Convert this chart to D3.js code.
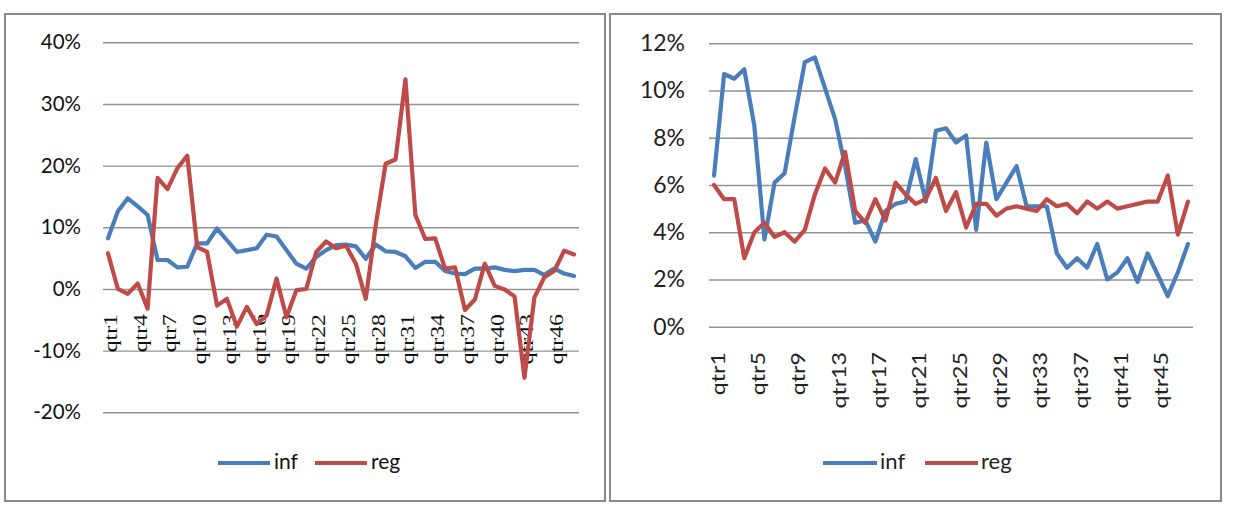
<!DOCTYPE html>
<html>
<head>
<meta charset="utf-8">
<script src="https://cdn.jsdelivr.net/npm/d3@7"></script>
<style>
  html, body { margin: 0; padding: 0; background: #fff; }
  svg { display: block; }
</style>
</head>
<body>
<svg id="chart" width="1242" height="509"></svg>
<script>
// ---------- data ----------
const categories = d3.range(1, 49).map(i => "qtr" + i);
const seriesNames = ["inf", "reg"];

const leftInf = [8.2,12.6,14.7,13.4,12.0,4.7,4.7,3.5,3.6,7.4,7.4,9.8,7.9,6.0,6.3,6.6,8.8,8.5,6.3,4.1,3.3,5.2,6.3,7.1,7.2,6.9,4.9,7.2,6.1,6.0,5.3,3.4,4.4,4.4,2.9,2.5,2.4,3.3,3.3,3.5,3.1,2.9,3.1,3.1,2.3,3.3,2.5,2.1];
const leftReg = [5.8,0,-0.8,0.9,-3.2,18.0,16.2,19.6,21.6,6.8,6.0,-2.7,-1.6,-6.1,-2.9,-5.7,-4.3,1.7,-4.6,-0.2,0,6.0,7.7,6.6,7.0,4.1,-1.6,10.3,20.3,21.0,34.0,12.0,8.1,8.2,3.3,3.5,-3.4,-1.7,4.1,0.5,-0.1,-1.2,-14.4,-1.4,1.9,2.9,6.2,5.6];

const rightInf = [6.4,10.7,10.5,10.9,8.5,3.7,6.1,6.5,8.9,11.2,11.4,10.1,8.8,6.8,4.4,4.5,3.6,4.9,5.2,5.3,7.1,5.3,8.3,8.4,7.8,8.1,4.1,7.8,5.4,6.1,6.8,5.1,5.1,5.1,3.1,2.5,2.9,2.5,3.5,2.0,2.3,2.9,1.9,3.1,2.2,1.3,2.3,3.5];
const rightReg = [6.0,5.4,5.4,2.9,4.0,4.4,3.8,4.0,3.6,4.1,5.6,6.7,6.1,7.4,4.9,4.4,5.4,4.5,6.1,5.6,5.2,5.4,6.3,4.9,5.7,4.2,5.2,5.2,4.7,5.0,5.1,5.0,4.9,5.4,5.1,5.2,4.8,5.3,5.0,5.3,5.0,5.1,5.2,5.3,5.3,6.4,3.9,5.3];

const leftTicks = [-20,-10,0,10,20,30,40];
const rightTicks = [0,2,4,6,8,10,12];
const leftLabelCats = categories.filter((c, i) => i % 3 === 0);
const rightLabelCats = categories.filter((c, i) => i % 4 === 0);

// ---------- styles ----------
const colors = { inf: "#4a7ebb", reg: "#be4b48" };
const svg = d3.select("#chart");

function panel(cfg) {
  svg.append("rect")
    .attr("x", cfg.box[0]).attr("y", cfg.box[1])
    .attr("width", cfg.box[2]).attr("height", cfg.box[3])
    .attr("fill", "#fff").attr("stroke", "#8a8a8a").attr("stroke-width", 2);

  const x = d3.scaleBand().domain(categories).range([cfg.x0, cfg.x1]);
  const y = d3.scaleLinear().domain(cfg.domain).range([cfg.yBottom, cfg.yTop]);
  const cx = c => x(c) + x.bandwidth() / 2;

  const yAxis = svg.append("g")
    .attr("transform", `translate(${cfg.x0},0)`)
    .call(d3.axisLeft(y).tickValues(cfg.ticks).tickSize(-(cfg.x1 - cfg.x0))
      .tickPadding(cfg.yPad).tickFormat(d => d + "%"));
  yAxis.select(".domain").remove();
  yAxis.selectAll(".tick line").attr("stroke", "#8f948f").attr("stroke-width", 1.4);
  yAxis.selectAll(".tick text")
    .attr("font-family", "Lato, 'Open Sans', sans-serif")
    .attr("font-size", cfg.yFont).attr("fill", cfg.textColor);

  const xAxis = svg.append("g")
    .attr("transform", `translate(0,${cfg.labelTop})`)
    .call(d3.axisBottom(x).tickValues(cfg.labelCats).tickSize(0));
  xAxis.select(".domain").remove();
  xAxis.selectAll(".tick text")
    .attr("x", 0).attr("y", 0).attr("dy", "0.35em")
    .attr("text-anchor", "end")
    .attr("font-family", cfg.xFamily)
    .attr("font-size", cfg.xFont)
    .attr("fill", cfg.textColor)
    .attr("transform", `translate(${cfg.xShift},0) rotate(-90) scale(${cfg.xStretch},1)`);

  const series = { inf: cfg.inf, reg: cfg.reg };
  seriesNames.forEach(name => {
    const line = d3.line()
      .x((d, i) => cx(categories[i]))
      .y(d => y(d));
    svg.append("path")
      .datum(series[name])
      .attr("d", line)
      .attr("fill", "none")
      .attr("stroke", colors[name])
      .attr("stroke-width", 4.2)
      .attr("stroke-linejoin", "round")
      .attr("stroke-linecap", "round");
  });

  const lg = svg.append("g");
  cfg.legend.forEach((l, i) => {
    lg.append("line")
      .attr("x1", l.lx1).attr("x2", l.lx2).attr("y1", cfg.legendY).attr("y2", cfg.legendY)
      .attr("stroke", colors[seriesNames[i]]).attr("stroke-width", 4.2);
    lg.append("text")
      .attr("x", l.tx).attr("y", cfg.legendBase)
      .attr("font-family", "Lato, 'Open Sans', sans-serif")
      .attr("font-size", cfg.legendFont)
      .attr("fill", cfg.textColor)
      .text(seriesNames[i]);
  });
}

panel({
  box: [5, 14, 600, 487],
  x0: 103, x1: 579,
  domain: [-20, 40], yBottom: 412.3, yTop: 42.3,
  ticks: leftTicks, yPad: 22, yFont: 20.5,
  labelCats: leftLabelCats, labelTop: 314,
  xFamily: "'Liberation Serif', 'Times New Roman', serif", xFont: 18, xStretch: 1.32, xShift: 2.5,
  textColor: "#111",
  inf: leftInf, reg: leftReg,
  legendY: 463, legendBase: 469, legendFont: 21,
  legend: [{lx1: 218, lx2: 270, tx: 274}, {lx1: 315, lx2: 367, tx: 371}]
});

panel({
  box: [610, 14, 611, 487],
  x0: 709, x1: 1193,
  domain: [0, 12], yBottom: 326.7, yTop: 43.3,
  ticks: rightTicks, yPad: 24, yFont: 23,
  labelCats: rightLabelCats, labelTop: 352,
  xFamily: "Lato, 'Open Sans', sans-serif", xFont: 19, xStretch: 1.22, xShift: 4,
  textColor: "#222",
  inf: rightInf, reg: rightReg,
  legendY: 463, legendBase: 469, legendFont: 22,
  legend: [{lx1: 823, lx2: 877, tx: 880}, {lx1: 925, lx2: 978, tx: 981}]
});
</script>
</body>
</html>
